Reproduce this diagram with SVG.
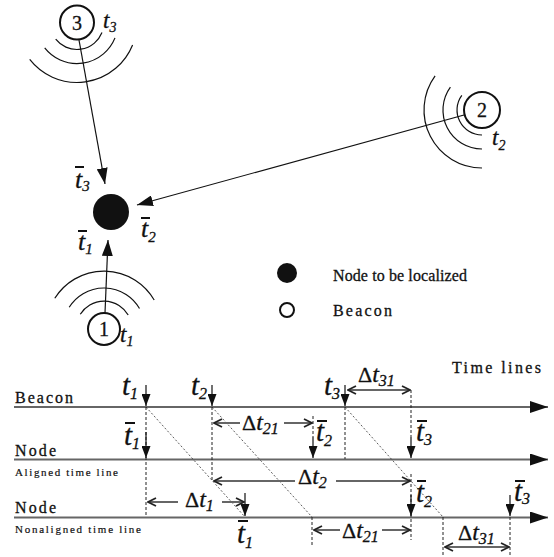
<svg xmlns="http://www.w3.org/2000/svg" width="554" height="557" viewBox="0 0 554 557">
<style>
text{font-family:"Liberation Serif","Times New Roman",serif;fill:#111;stroke:#111;stroke-width:0.3}
.t{font-style:italic;font-size:29px}
.d{font-size:22px}
.s{font-size:16px;font-style:italic}
.lab{font-size:16px}
.small{font-size:11px;stroke-width:0.2}
.num{font-size:20px;text-anchor:middle}
.ln{stroke:#666;stroke-width:2;fill:none}
.dash{stroke:#222;stroke-width:1;stroke-dasharray:3,2;fill:none}
.diag{stroke:#333;stroke-width:0.8;stroke-dasharray:2,2;fill:none}
.arr{stroke:#111;stroke-width:1.2;fill:none}
.darr{stroke:#666;stroke-width:2;fill:none}
.arc{fill:none;stroke:#111;stroke-width:1.2}
.bc{fill:#fff;stroke:#111;stroke-width:2}
.ob{stroke:#111;stroke-width:2}
</style>
<defs>
<marker id="fa" markerUnits="userSpaceOnUse" viewBox="0 0 12 9" refX="12" refY="4.5" markerWidth="12" markerHeight="9" orient="auto"><path d="M0,0 L12,4.5 L0,9 z" fill="#111"/></marker>
<marker id="big" markerUnits="userSpaceOnUse" viewBox="0 0 16 11" refX="16" refY="5.5" markerWidth="16" markerHeight="11" orient="auto"><path d="M0,0 L16,5.5 L0,11 z" fill="#111"/></marker>
<marker id="tl" markerUnits="userSpaceOnUse" viewBox="0 0 18 12" refX="18" refY="6" markerWidth="18" markerHeight="12" orient="auto"><path d="M0,0 L18,6 L0,12 z" fill="#111"/></marker>
<marker id="op" markerUnits="userSpaceOnUse" viewBox="0 0 10 10" refX="9" refY="5" markerWidth="10" markerHeight="10" orient="auto-start-reverse"><path d="M1,1 L9,5 L1,9" fill="none" stroke="#222" stroke-width="1.8"/></marker>
</defs>

<g id="connectors">
<line class="arr" x1="79" y1="40" x2="105" y2="184" marker-end="url(#big)"/>
<line class="arr" x1="464" y1="115" x2="137" y2="205" marker-end="url(#big)"/>
<line class="arr" x1="105" y1="313" x2="108" y2="240" marker-end="url(#big)"/>
</g>

<g id="beacon3">
<path class="arc" d="M102,32.6 A27,27 0 0 1 55.7,39.1"/>
<path class="arc" d="M115,37.9 A41,41 0 0 1 44.7,47.8"/>
<path class="arc" d="M132.6,45 A60,60 0 0 1 29.7,59.4"/>
<circle class="bc" cx="77" cy="22.5" r="17"/>
<text class="num" x="77" y="29.5">3</text>
<text class="t" x="103" y="28" style="font-size:23px">t<tspan class="s" dy="4" style="font-size:14px">3</tspan></text>
</g>

<g id="beacon2">
<path class="arc" d="M482,135 A25,25 0 0 1 461.8,95.3"/>
<path class="arc" d="M482,149 A39,39 0 0 1 450.4,87.1"/>
<path class="arc" d="M482,168 A58,58 0 0 1 435.1,75.9"/>
<circle class="bc" cx="482" cy="110" r="18"/>
<text class="num" x="482" y="117">2</text>
<text class="t" x="492" y="145" style="font-size:23px">t<tspan class="s" dy="5" style="font-size:14px">2</tspan></text>
</g>

<g id="beacon1">
<path class="arc" d="M80.3,314.2 A28,28 0 0 1 128.2,315"/>
<path class="arc" d="M69.2,307.3 A41,41 0 0 1 139.5,308.5"/>
<path class="arc" d="M54.8,298.3 A58,58 0 0 1 154.2,300"/>
<circle class="bc" cx="104" cy="329" r="16"/>
<text class="num" x="104" y="336">1</text>
<text class="t" x="120" y="342" style="font-size:23px">t<tspan class="s" dy="4" style="font-size:14px">1</tspan></text>
</g>

<g id="node">
<circle cx="111" cy="212" r="18" fill="#111"/>
<line class="ob" x1="75" y1="167" x2="84" y2="167"/>
<text class="t" x="75" y="188" style="font-size:26px">t<tspan class="s" dy="3" style="font-size:15px">3</tspan></text>
<line class="ob" x1="141" y1="218" x2="150" y2="218"/>
<text class="t" x="141" y="237" style="font-size:26px">t<tspan class="s" dy="5" style="font-size:15px">2</tspan></text>
<line class="ob" x1="78" y1="231" x2="87" y2="231"/>
<text class="t" x="78" y="250" style="font-size:26px">t<tspan class="s" dy="4" style="font-size:15px">1</tspan></text>
</g>

<g id="legend">
<circle cx="287" cy="273" r="10" fill="#111"/>
<text class="lab" x="333" y="281" textLength="134">Node to be localized</text>
<circle cx="287" cy="310" r="7" fill="none" stroke="#111" stroke-width="2"/>
<text class="lab" x="333" y="316" textLength="59">Beacon</text>
</g>

<g id="timelines">
<text class="lab" x="452" y="373" textLength="89">Time lines</text>
<line class="ln" x1="14" y1="407" x2="548" y2="407" marker-end="url(#tl)"/>
<text class="lab" x="15" y="403" textLength="58">Beacon</text>
<line class="ln" x1="14" y1="459.5" x2="548" y2="459.5" marker-end="url(#tl)"/>
<text class="lab" x="15" y="456" textLength="41">Node</text>
<text class="small" x="15" y="476" textLength="103">Aligned time line</text>
<line class="ln" x1="14" y1="517.5" x2="548" y2="517.5" marker-end="url(#tl)"/>
<text class="lab" x="15" y="513" textLength="41">Node</text>
<text class="small" x="15" y="533" textLength="126">Nonaligned time line</text>
</g>

<g id="timing-connectors">
<line class="diag" x1="146" y1="407" x2="245" y2="517"/>
<line class="diag" x1="212" y1="407" x2="312" y2="517"/>
<line class="diag" x1="345" y1="407" x2="443" y2="517"/>
<line class="dash" x1="146" y1="407" x2="146" y2="517"/>
<line class="dash" x1="212" y1="407" x2="212" y2="480"/>
<line class="dash" x1="313" y1="416" x2="313" y2="437"/>
<line class="dash" x1="345" y1="407" x2="345" y2="459"/>
<line class="dash" x1="411" y1="390" x2="411" y2="437"/>
<line class="dash" x1="411" y1="474" x2="411" y2="540"/>
<line class="dash" x1="312" y1="517" x2="312" y2="545"/>
<line class="dash" x1="443" y1="517" x2="443" y2="557"/>
<line class="dash" x1="510" y1="517" x2="510" y2="557"/>
<line class="arr" x1="146" y1="385" x2="146" y2="406" marker-end="url(#fa)"/>
<line class="arr" x1="212" y1="385" x2="212" y2="406" marker-end="url(#fa)"/>
<line class="arr" x1="345" y1="385" x2="345" y2="406" marker-end="url(#fa)"/>
<line class="arr" x1="146" y1="432" x2="146" y2="458" marker-end="url(#fa)"/>
<line class="arr" x1="313" y1="437" x2="313" y2="458" marker-end="url(#fa)"/>
<line class="arr" x1="411" y1="437" x2="411" y2="458" marker-end="url(#fa)"/>
<line class="arr" x1="245" y1="493" x2="245" y2="516" marker-end="url(#fa)"/>
<line class="arr" x1="411" y1="495" x2="411" y2="516" marker-end="url(#fa)"/>
<line class="arr" x1="510" y1="495" x2="510" y2="516" marker-end="url(#fa)"/>
<line class="darr" x1="348" y1="390" x2="410" y2="390" marker-start="url(#op)" marker-end="url(#op)"/>
<line class="darr" x1="214" y1="423" x2="240" y2="423" marker-start="url(#op)"/>
<line class="darr" x1="284" y1="423" x2="312" y2="423" marker-end="url(#op)"/>
<line class="darr" x1="214" y1="481" x2="295" y2="481" marker-start="url(#op)"/>
<line class="darr" x1="336" y1="481" x2="410" y2="481" marker-end="url(#op)"/>
<line class="darr" x1="148" y1="502" x2="178" y2="502" marker-start="url(#op)"/>
<line class="darr" x1="222" y1="502" x2="244" y2="502" marker-end="url(#op)"/>
<line class="darr" x1="314" y1="530" x2="340" y2="530" marker-start="url(#op)"/>
<line class="darr" x1="382" y1="530" x2="410" y2="530" marker-end="url(#op)"/>
<line class="darr" x1="445" y1="547" x2="509" y2="547" marker-start="url(#op)" marker-end="url(#op)"/>
</g>

<g id="timing-labels">
<text class="t" x="122" y="395">t<tspan class="s" dy="4">1</tspan></text>
<text class="t" x="191" y="395">t<tspan class="s" dy="4">2</tspan></text>
<text class="t" x="324" y="395">t<tspan class="s" dy="4">3</tspan></text>
<line class="ob" x1="125" y1="423" x2="135" y2="423"/>
<text class="t" x="124" y="445">t<tspan class="s" dy="4">1</tspan></text>
<line class="ob" x1="317" y1="421" x2="327" y2="421"/>
<text class="t" x="316" y="441">t<tspan class="s" dy="5">2</tspan></text>
<line class="ob" x1="417" y1="421" x2="427" y2="421"/>
<text class="t" x="416" y="441">t<tspan class="s" dy="4">3</tspan></text>
<line class="ob" x1="417" y1="481" x2="426" y2="481"/>
<text class="t" x="416" y="502">t<tspan class="s" dy="5">2</tspan></text>
<line class="ob" x1="515" y1="481" x2="525" y2="481"/>
<text class="t" x="514" y="501">t<tspan class="s" dy="3">3</tspan></text>
<line class="ob" x1="238" y1="521" x2="248" y2="521"/>
<text class="t" x="237" y="543">t<tspan class="s" dy="5">1</tspan></text>
<text class="d" x="358" y="382">Δ<tspan class="t" style="font-size:24px">t</tspan><tspan class="s" dy="4">31</tspan></text>
<text class="d" x="242" y="430">Δ<tspan class="t" style="font-size:24px">t</tspan><tspan class="s" dy="4">21</tspan></text>
<text class="d" x="298" y="484">Δ<tspan class="t" style="font-size:24px">t</tspan><tspan class="s" dy="4">2</tspan></text>
<text class="d" x="185" y="507">Δ<tspan class="t" style="font-size:24px">t</tspan><tspan class="s" dy="4">1</tspan></text>
<text class="d" x="342" y="538">Δ<tspan class="t" style="font-size:24px">t</tspan><tspan class="s" dy="4">21</tspan></text>
<text class="d" x="458" y="540">Δ<tspan class="t" style="font-size:24px">t</tspan><tspan class="s" dy="4">31</tspan></text>
</g>
</svg>
